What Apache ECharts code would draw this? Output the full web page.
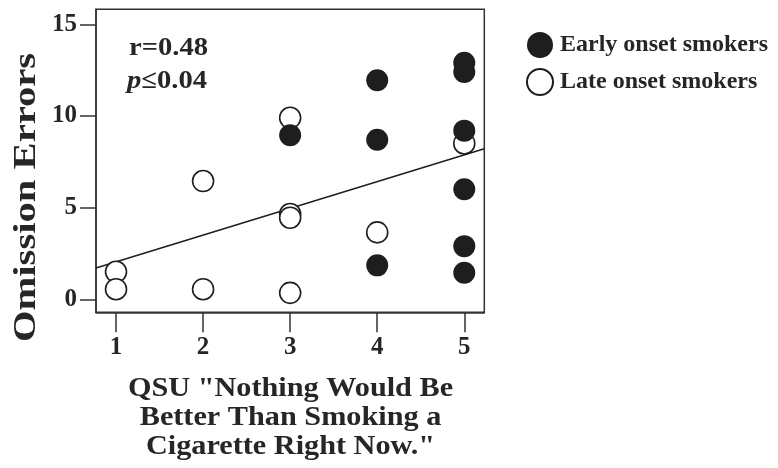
<!DOCTYPE html>
<html>
<head>
<meta charset="utf-8">
<script src="https://cdn.jsdelivr.net/npm/echarts@6/dist/echarts.min.js"></script>
<style>html,body{margin:0;padding:0;background:#fff}#c{width:778px;height:468px}</style>
</head>
<body>
<div id="c"></div>
<script>
const xEarly = [3, 4, 4, 4, 5, 5, 5, 5, 5, 5];
const yEarly = [8.95, 11.95, 8.7, 1.85, 12.9, 12.4, 9.2, 6.0, 2.9, 1.45];
const xLate = [1, 1, 2, 2, 3, 3, 3, 3, 4, 5];
const yLate = [1.5, 0.55, 6.45, 0.55, 9.9, 4.65, 4.45, 0.35, 3.65, 8.5];
const fitSlope = 1.46;
const fitIntercept = 0.58;
const xTicks = [1, 2, 3, 4, 5];
const yTicks = [0, 5, 10, 15];
const seriesNames = ['Early onset smokers', 'Late onset smokers'];
const xTitle = 'QSU "Nothing Would Be\nBetter Than Smoking a\nCigarette Right Now."';
const yTitle = 'Omission Errors';

const xMin = 0.77, xMax = 5.23, yMin = -0.71, yMax = 15.82;
const font = '"Liberation Serif", "Times New Roman", serif';
const ink = '#262626';

const chart = echarts.init(document.getElementById('c'));
chart.setOption({
  animation: false,
  backgroundColor: '#fff',
  grid: { left: 96, top: 9.3, right: 293.7, bottom: 155.7, show: true, borderColor: '#333', borderWidth: 1.5, backgroundColor: 'transparent' },
  legend: {
    data: seriesNames,
    orient: 'vertical',
    left: 521, top: 27,
    itemWidth: 26, itemHeight: 26, itemGap: 10,
    icon: 'circle',
    textStyle: { fontFamily: font, fontWeight: 'bold', fontSize: 24, color: ink, padding: [0, 0, 0, 2] }
  },
  xAxis: {
    type: 'value', min: xMin, max: xMax,
    splitLine: { show: false },
    axisLine: { show: true, onZero: false, lineStyle: { color: '#333', width: 1.5 } },
    axisTick: { show: true, length: 20, customValues: xTicks, lineStyle: { color: '#333', width: 1.5 } },
    axisLabel: { customValues: xTicks, margin: 23, fontFamily: font, fontWeight: 'bold', fontSize: 25, color: ink }
  },
  yAxis: {
    type: 'value', min: yMin, max: yMax,
    splitLine: { show: false },
    axisLine: { show: true, onZero: false, lineStyle: { color: '#333', width: 1.5 } },
    axisTick: { show: true, length: 16, customValues: yTicks, lineStyle: { color: '#333', width: 1.5 } },
    axisLabel: { customValues: yTicks, margin: 19, fontFamily: font, fontWeight: 'bold', fontSize: 25, color: ink }
  },
  graphic: [
    { type: 'text', x: 27, y: 197.5, rotation: Math.PI / 2, scaleX: 1.31,
      style: { text: yTitle, font: 'bold 31px ' + font, fill: ink, align: 'center', verticalAlign: 'middle' } },
    { type: 'text', x: 290.5, y: 375, scaleX: 1.12,
      style: { text: xTitle, font: 'bold 27px ' + font, lineHeight: 29, fill: ink, align: 'center', verticalAlign: 'top' } },
    { type: 'text', x: 129, y: 48, scaleX: 1.1,
      style: { text: 'r=0.48', font: 'bold 26px ' + font, fill: ink, align: 'left', verticalAlign: 'middle' } },
    { type: 'text', x: 127, y: 81, scaleX: 1.1,
      style: { rich: { i: { font: 'italic bold 26px ' + font, fill: ink }, n: { font: 'bold 26px ' + font, fill: ink } },
               text: '{i|p}{n|≤0.04}', align: 'left', verticalAlign: 'middle' } }
  ],
  series: [
    {
      name: seriesNames[0], type: 'scatter', z: 4,
      symbol: 'circle', symbolSize: 22,
      itemStyle: { color: '#1e1e1e', opacity: 1 },
      data: xEarly.map((x, i) => [x, yEarly[i]])
    },
    {
      name: seriesNames[1], type: 'scatter', z: 3,
      symbol: 'circle', symbolSize: 21,
      itemStyle: { color: '#fff', borderColor: '#1e1e1e', borderWidth: 1.6, opacity: 1 },
      data: xLate.map((x, i) => [x, yLate[i]])
    },
    {
      name: 'fit', type: 'line', z: 2, silent: true,
      symbol: 'none',
      lineStyle: { color: '#1e1e1e', width: 1.5 },
      data: [xMin, xMax].map(x => [x, fitIntercept + fitSlope * x])
    }
  ]
});
</script>
</body>
</html>
